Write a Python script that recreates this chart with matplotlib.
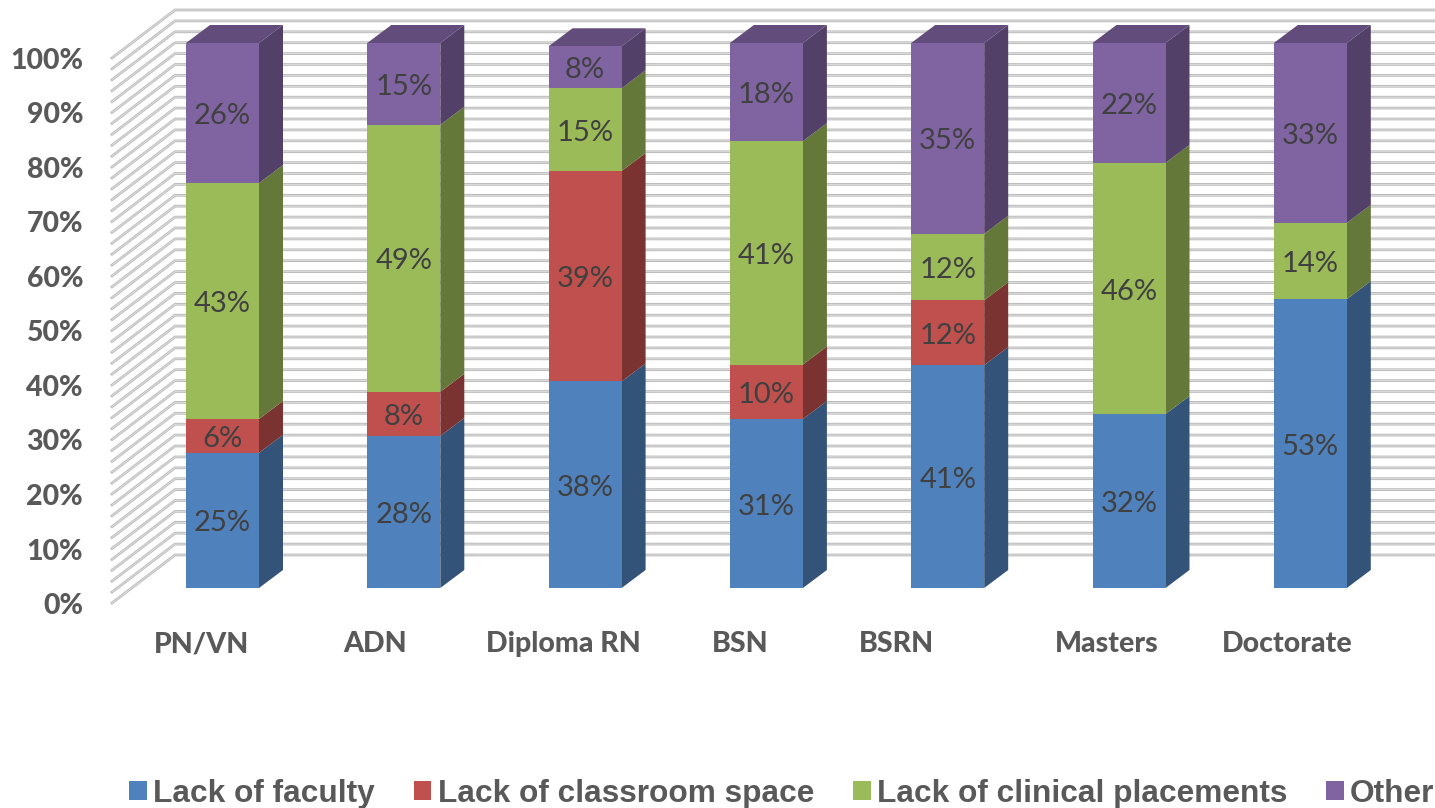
import matplotlib
matplotlib.use("Agg")
import matplotlib.pyplot as plt
import numpy as np
from matplotlib.patches import Polygon
from matplotlib.colors import to_rgb

categories = ["PN/VN", "ADN", "Diploma RN", "BSN", "BSRN", "Masters", "Doctorate"]
lack_of_faculty = [24.8, 27.9, 37.9, 31.0, 40.9, 31.9, 53.0]
lack_of_classroom = [6.2, 8.1, 38.6, 10.0, 11.9, 0, 0]
lack_of_clinical = [43.3, 49.0, 15.2, 41.0, 12.2, 46.1, 14.0]
other = [25.7, 15.0, 7.7, 18.0, 35.0, 22.0, 33.0]
series_names = ["Lack of faculty", "Lack of classroom space", "Lack of clinical placements", "Other"]
y_ticks = list(range(0, 101, 10))

# styling / layout
colors = ["#4F81BD", "#C0504D", "#9BBB59", "#8064A2"]
W, H = 1435, 808
X0_PX, DX_PX = 222.5, 181.3
Y0_PX, PX_PER_PCT = 588, 5.45
BAR_W = 73 / DX_PX
DEPTH_X, DEPTH_Y = 24 / DX_PX, 18 / PX_PER_PCT
WALL_BACK_X, WALL_FRONT_X = (175 - X0_PX) / DX_PX, (112 - X0_PX) / DX_PX
WALL_BACK_DY, WALL_FRONT_DY = 33 / PX_PER_PCT, -15 / PX_PER_PCT
CAT_NUDGE_PX = [-21, -29, -22, -26, -51, -22, -23]

plt.rcParams["font.family"] = ["Lato", "DejaVu Sans"]
fig = plt.figure(figsize=(W / 100, H / 100), dpi=100, facecolor="white")
ax = fig.add_axes([0, 0, 1, 1])
ax.set_xlim(-X0_PX / DX_PX, (W - X0_PX) / DX_PX)
ax.set_ylim(-(H - Y0_PX) / PX_PER_PCT, Y0_PX / PX_PER_PCT)
ax.axis("off")


def shade(c, f):
    return tuple(v * f for v in to_rgb(c))


# gridlines on walls, every 2%
x_right = ax.get_xlim()[1]
for p in range(0, 101, 2):
    ax.plot([WALL_FRONT_X, WALL_BACK_X, x_right],
            [p + WALL_FRONT_DY, p + WALL_BACK_DY, p + WALL_BACK_DY],
            color="#BEBEBE", lw=2.0, solid_joinstyle="miter", zorder=1)
    ax.plot([WALL_FRONT_X, WALL_BACK_X, x_right],
            [p + WALL_FRONT_DY, p + WALL_BACK_DY, p + WALL_BACK_DY],
            color="#E6E6E6", lw=0.5, zorder=1.1)

x = np.arange(len(categories))
series = [lack_of_faculty, lack_of_classroom, lack_of_clinical, other]
bottom = np.zeros(len(categories))
handles = []
for vals, col, name in zip(series, colors, series_names):
    vals = np.array(vals, float)
    bars = ax.bar(x, vals, BAR_W, bottom=bottom, color=col, lw=0, zorder=3, label=name)
    handles.append(bars)
    for xi, b, v in zip(x, bottom, vals):
        if v <= 0:
            continue
        xr = xi + BAR_W / 2
        ax.add_patch(Polygon([(xr, b), (xr + DEPTH_X, b + DEPTH_Y),
                              (xr + DEPTH_X, b + v + DEPTH_Y), (xr, b + v)],
                             closed=True, fc=shade(col, 0.64), lw=0, zorder=2.9))
        ax.annotate(f"{round(v)}%", (xi, b + v / 2), xytext=(0, -3), textcoords="offset pixels",
                    ha="center", va="center", fontsize=21, color="#404040", zorder=5)
    bottom = bottom + vals

# top faces
for xi, t in zip(x, bottom):
    xl, xr = xi - BAR_W / 2, xi + BAR_W / 2
    ax.add_patch(Polygon([(xl, t), (xr, t), (xr + DEPTH_X, t + DEPTH_Y), (xl + DEPTH_X, t + DEPTH_Y)],
                         closed=True, fc=shade(colors[3], 0.76), lw=0, zorder=2.95))

# y tick labels
for t in y_ticks:
    ax.annotate(f"{t}%", (WALL_FRONT_X, t), xytext=(-29, -18), textcoords="offset pixels",
                ha="right", va="center", fontsize=20.5, fontweight=900, color="#595959")

# category labels
for xi, name, nudge in zip(x, categories, CAT_NUDGE_PX):
    ax.annotate(name, (xi, 0), xytext=(nudge, -56), textcoords="offset pixels",
                ha="center", va="center", fontsize=20.5, fontweight=900, color="#595959")

leg = ax.legend(handles=handles, loc="lower left", bbox_to_anchor=(124.5 / W, -0.007), ncol=4,
                frameon=False, borderpad=0, borderaxespad=0.15,
                handlelength=0.55, handleheight=0.55, handletextpad=0.2, columnspacing=1.24,
                prop={"family": "Liberation Sans", "weight": "bold", "size": 22.75},
                labelcolor="#595959")

fig.savefig("out.png", dpi=100)
